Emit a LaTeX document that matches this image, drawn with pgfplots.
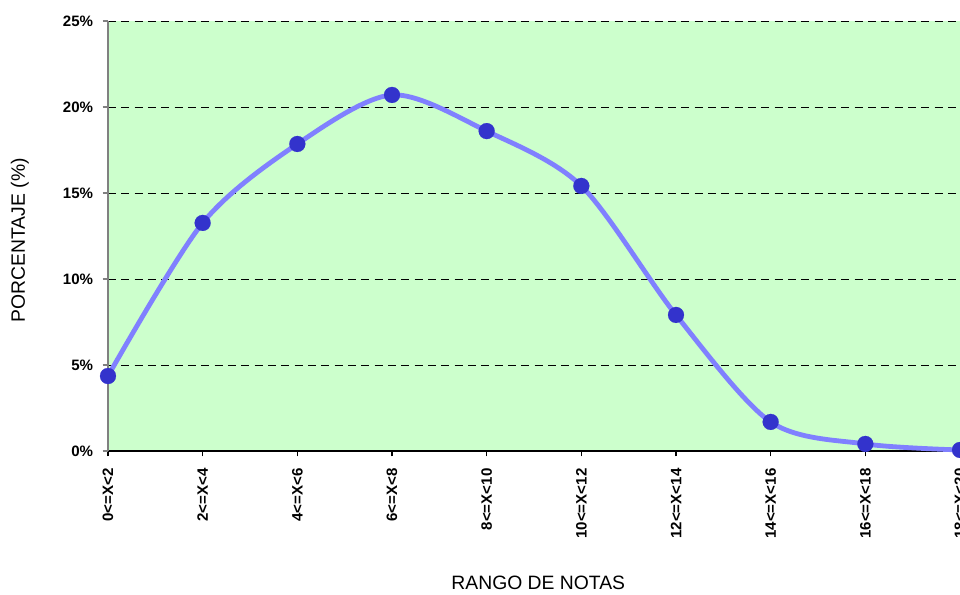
\documentclass[border=0pt]{standalone}
\usepackage{pgfplots}
\pgfplotsset{compat=1.18}
\usepackage{fontspec}
\setmainfont{Liberation Sans}
\definecolor{bgg}{HTML}{CCFFCC}
\definecolor{linec}{HTML}{8080FF}
\definecolor{markc}{HTML}{3333CC}
\definecolor{axgray}{HTML}{808080}
\begin{document}
\begin{tikzpicture}
\begin{axis}[
  scale only axis,
  width=639bp, height=322.5bp,
  xmin=0, xmax=9, ymin=0, ymax=25,
  axis background/.style={fill=bgg},
  axis x line*=bottom,
  axis y line*=left,
  x axis line style={black, line width=1.1bp},
  y axis line style={axgray, line width=1.1bp},
  xtick={0,...,9},
  xticklabels={0<=X<2,2<=X<4,4<=X<6,6<=X<8,8<=X<10,10<=X<12,12<=X<14,14<=X<16,16<=X<18,18<=X<20},
  x tick label style={rotate=90, anchor=east, font=\fontsize{11.3bp}{13bp}\selectfont\bfseries, inner sep=0pt},
  xticklabel shift=9bp,
  ytick={0,5,...,25},
  yticklabel={\pgfmathprintnumber{\tick}\%},
  y tick label style={font=\fontsize{11.3bp}{13bp}\selectfont\bfseries, inner sep=0pt},
  yticklabel shift=7bp,
  /pgf/number format/assume math mode=true,
  tick align=outside,
  major tick length=4bp,
  tick style={axgray, line width=0.8bp},
  xtick style={black},
  ymajorgrids,
  grid style={black, dash pattern=on 6bp off 4bp, line width=0.6bp},
  xlabel={RANGO DE NOTAS},
  ylabel={PORCENTAJE (\%)},
  xlabel style={font=\fontsize{14.5bp}{16bp}\selectfont, at={(axis description cs:0.505,-0.307)}, anchor=center},
  ylabel style={font=\fontsize{14.5bp}{16bp}\selectfont, at={(axis description cs:-0.1033,0.49)}, anchor=center},
  clip=false,
]
\addplot[linec, line width=3.6bp, smooth, tension=0.5,
  mark=*, mark size=6bp, mark options={solid, fill=markc, draw=markc, line width=0.1bp}]
  coordinates {
  (0,4.36) (1,13.26) (2,17.85) (3,20.70) (4,18.60)
  (5,15.41) (6,7.91) (7,1.69) (8,0.41) (9,0.06)
  };
\end{axis}
\pgfresetboundingbox
\path ([xshift=-81bp,yshift=-108bp]current axis.south west) rectangle ([yshift=15.75bp]current axis.north east);
\end{tikzpicture}
\end{document}
